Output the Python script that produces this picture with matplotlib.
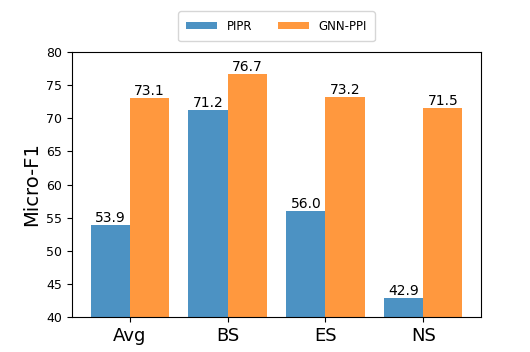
import matplotlib
matplotlib.use('agg')
import matplotlib.pyplot as plt
import numpy as np

categories = ['Avg', 'BS', 'ES', 'NS']
pipr = [53.9, 71.2, 56.0, 42.9]
gnn_ppi = [73.1, 76.7, 73.2, 71.5]

fig, ax = plt.subplots(figsize=(5.3, 3.52), dpi=100)
fig.subplots_adjust(left=0.136, right=0.9075, bottom=0.0994, top=0.852)

x = np.arange(len(categories))
width = 0.4
b1 = ax.bar(x - width / 2, pipr, width, label='PIPR', color='tab:blue', alpha=0.8)
b2 = ax.bar(x + width / 2, gnn_ppi, width, label='GNN-PPI', color='tab:orange', alpha=0.8)

for bars in (b1, b2):
    for rect in bars:
        h = rect.get_height()
        ax.text(rect.get_x() + rect.get_width() / 2, h, '%.1f' % h,
                ha='center', va='bottom', fontsize=10)

ax.set_ylim(40, 80)
ax.set_xticks(x)
ax.set_xticklabels(categories, fontsize=13)
ax.tick_params(axis='y', labelsize=9)
ax.set_ylabel('Micro-F1', fontsize=14)
ax.legend(loc='lower center', bbox_to_anchor=(0.5, 1.02), ncol=2, fontsize=8.5,
          handlelength=2.6, handleheight=0.5, columnspacing=2.2, borderpad=0.7)

fig.savefig('out.png', dpi=100)
